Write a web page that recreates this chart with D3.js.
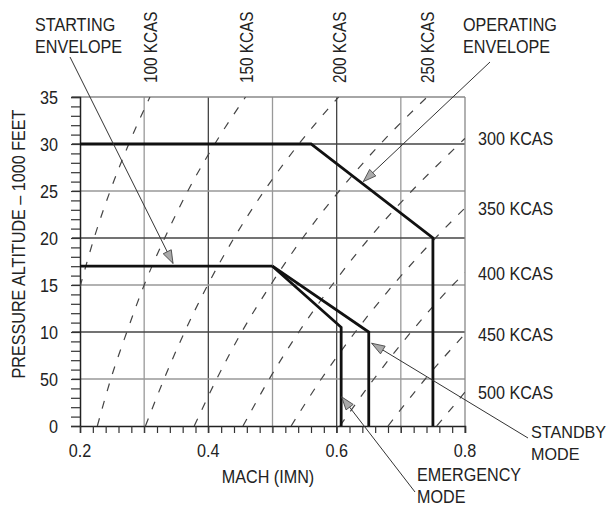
<!DOCTYPE html>
<html><head><meta charset="utf-8">
<script src="https://cdn.jsdelivr.net/npm/d3@7"></script>
<style>
body{margin:0;background:#fff}
svg text{font-family:"Liberation Sans",Arial,sans-serif;fill:#222;font-size:19px}
</style></head><body>
<svg id="chart" width="614" height="509"></svg>
<script>
// Axis ticks and labels
const machTicks = [0.2, 0.4, 0.6, 0.8];
const machMinorTicks = d3.range(10, 41).map(d => d / 50);   // every 0.02 Mach
const altTicks = [0, 5, 10, 15, 20, 25, 30, 35];
const altTickLabels = ["0", "50", "10", "15", "20", "25", "30", "35"];
const altMinorTicks = d3.range(0, 36);
const machGrid = [0.3, 0.4, 0.5, 0.6, 0.7];
const altGrid = [5, 10, 15, 20, 25, 30];

// Constant calibrated airspeed lines: [Mach, pressure altitude (1000 ft)]
const kcas100 = [[0.200, 14.8], [0.222, 20], [0.247, 25], [0.276, 30], [0.309, 35]];
const kcas150 = [[0.227, 0], [0.248, 5], [0.273, 10], [0.300, 15], [0.332, 20], [0.368, 25], [0.410, 30], [0.458, 35]];
const kcas200 = [[0.302, 0], [0.331, 5], [0.363, 10], [0.399, 15], [0.440, 20], [0.487, 25], [0.541, 30], [0.603, 35]];
const kcas250 = [[0.378, 0], [0.413, 5], [0.452, 10], [0.497, 15], [0.547, 20], [0.604, 25], [0.668, 30], [0.741, 35]];
const kcas300 = [[0.454, 0], [0.495, 5], [0.541, 10], [0.593, 15], [0.651, 20], [0.717, 25], [0.791, 30], [0.800, 30.6]];
const kcas350 = [[0.529, 0], [0.576, 5], [0.629, 10], [0.688, 15], [0.754, 20], [0.800, 23.2]];
const kcas400 = [[0.605, 0], [0.658, 5], [0.716, 10], [0.781, 15], [0.800, 16.3]];
const kcas450 = [[0.680, 0], [0.738, 5], [0.800, 9.8]];
const kcas500 = [[0.756, 0], [0.800, 3.6]];
const kcasLines = [kcas100, kcas150, kcas200, kcas250, kcas300, kcas350, kcas400, kcas450, kcas500];
const topKcasLabels = ["100 KCAS", "150 KCAS", "200 KCAS", "250 KCAS"];
const rightKcasLabels = ["300 KCAS", "350 KCAS", "400 KCAS", "450 KCAS", "500 KCAS"];

// Envelope boundaries
const operatingEnvelope = [[0.2, 30], [0.56, 30], [0.75, 20], [0.75, 0]];
const startingEnvelope = [[0.2, 17], [0.5, 17]];
const emergencyMode = [[0.5, 17], [0.607, 10.5], [0.607, 0]];
const standbyMode = [[0.5, 17], [0.65, 10], [0.65, 0]];

// Callouts: arrow tip in chart units, leader tail and text in page pixels
const callouts = [
  {lines: ["STARTING", "ENVELOPE"], tip: [0.345, 17.3], tail: [70, 57], tx: 35, ty: 31, size: 19},
  {lines: ["OPERATING", "ENVELOPE"], tip: [0.6415, 26.0], tail: [490, 62], tx: 463, ty: 31, size: 19},
  {lines: ["STANDBY", "MODE"], tip: [0.6546, 8.8], tail: [528, 438], tx: 531, ty: 438, size: 17},
  {lines: ["EMERGENCY", "MODE"], tip: [0.6078, 3.1], tail: [415, 492], tx: 417, ty: 481, size: 19}
];

const svg = d3.select("#chart");
const x = d3.scaleLinear().domain([0.2, 0.8]).range([80, 465]);
const y = d3.scaleLinear().domain([0, 35]).range([426, 97]);

svg.append("defs").append("clipPath").attr("id", "plot")
  .append("rect").attr("x", x(0.2)).attr("y", y(35)).attr("width", x(0.8) - x(0.2)).attr("height", y(0) - y(35));

// grid
const grid = svg.append("g");
grid.selectAll(".vg").data(machGrid).join("line")
  .attr("x1", d => x(d)).attr("x2", d => x(d)).attr("y1", y(35)).attr("y2", y(0) + 7)
  .attr("stroke", (d, i) => i % 2 === 1 ? "#444" : "#999").attr("stroke-width", 1.3);
grid.selectAll(".hg").data(altGrid).join("line")
  .attr("x1", 72).attr("x2", x(0.8)).attr("y1", d => y(d)).attr("y2", d => y(d))
  .attr("stroke", (d, i) => i % 2 === 1 ? "#444" : "#999").attr("stroke-width", 1.3);
// frame
grid.append("line").attr("x1", 72).attr("x2", x(0.8)).attr("y1", y(35)).attr("y2", y(35)).attr("stroke", "#888").attr("stroke-width", 1.3);
grid.append("line").attr("x1", x(0.8)).attr("x2", x(0.8)).attr("y1", y(35)).attr("y2", y(0) + 7).attr("stroke", "#888").attr("stroke-width", 1.3);

// axes with minor ticks
const yAxis = d3.axisLeft(y).tickValues(altMinorTicks).tickSize(9).tickFormat("");
svg.append("g").attr("transform", `translate(${x(0.2)},0)`).call(yAxis)
  .call(g => g.select(".domain").attr("stroke", "#222").attr("stroke-width", 1.5))
  .call(g => g.selectAll(".tick line").attr("stroke", "#333").attr("stroke-width", 1.2));
const xAxis = d3.axisBottom(x).tickValues(machMinorTicks).tickSize(7).tickFormat("");
svg.append("g").attr("transform", `translate(0,${y(0)})`).call(xAxis)
  .call(g => g.select(".domain").attr("stroke", "#222").attr("stroke-width", 1.5))
  .call(g => g.selectAll(".tick line").attr("stroke", "#333").attr("stroke-width", 1.2));

// tick labels
svg.append("g").selectAll("text").data(altTicks).join("text")
  .attr("x", 58).attr("y", d => y(d) + 7).attr("text-anchor", "end")
  .text((d, i) => altTickLabels[i]);
svg.append("g").selectAll("text").data(machTicks).join("text")
  .attr("x", d => x(d)).attr("y", 457).attr("text-anchor", "middle")
  .text(d => d3.format(".1f")(d));

// axis titles
svg.append("text").attr("transform", "translate(25,244) rotate(-90)").attr("text-anchor", "middle")
  .text("PRESSURE ALTITUDE – 1000 FEET");
svg.append("text").attr("x", 268).attr("y", 483).attr("text-anchor", "middle").text("MACH (IMN)");

// constant KCAS lines
const line = d3.line().x(d => x(d[0])).y(d => y(d[1])).curve(d3.curveMonotoneX);
svg.append("g").attr("clip-path", "url(#plot)").selectAll("path").data(kcasLines).join("path")
  .attr("d", line).attr("fill", "none").attr("stroke", "#444").attr("stroke-width", 1.2)
  .attr("stroke-dasharray", "8,10");

// KCAS labels (top ones set in a slightly smaller size so they clear the page edge)
svg.append("g").selectAll("text").data(topKcasLabels).join("text")
  .style("font-size", "18px")
  .attr("transform", (d, i) => { const p = kcasLines[i][kcasLines[i].length - 1]; return `translate(${x(p[0]) + 7},83) rotate(-90)`; })
  .text(d => d);
svg.append("g").selectAll("text").data(rightKcasLabels).join("text")
  .attr("x", 478).attr("y", (d, i) => { const c = kcasLines[i + 4]; return y(c[c.length - 1][1]) + 7; })
  .text(d => d);

// envelopes
const straight = d3.line().x(d => x(d[0])).y(d => y(d[1]));
svg.append("g").selectAll("path").data([operatingEnvelope, startingEnvelope, emergencyMode, standbyMode]).join("path")
  .attr("d", straight).attr("fill", "none").attr("stroke", "#111").attr("stroke-width", 2.8)
  .attr("stroke-linejoin", "miter");

// callouts
const cg = svg.append("g");
callouts.forEach(c => {
  const tx = x(c.tip[0]), ty = y(c.tip[1]);
  cg.append("line").attr("x1", c.tail[0]).attr("y1", c.tail[1]).attr("x2", tx).attr("y2", ty)
    .attr("stroke", "#333").attr("stroke-width", 1);
  const ang = Math.atan2(ty - c.tail[1], tx - c.tail[0]) * 180 / Math.PI;
  cg.append("path").attr("d", "M0,0L-13,-4.5L-13,4.5Z")
    .attr("transform", `translate(${tx},${ty}) rotate(${ang})`)
    .attr("fill", "#aaa").attr("stroke", "#444").attr("stroke-width", 0.8);
  c.lines.forEach((t, i) => cg.append("text").attr("x", c.tx).attr("y", c.ty + i * 22)
    .style("font-size", c.size + "px").attr("data-squeeze", c.size < 19 ? 0.95 : 0.85).text(t));
});

// condensed lettering: squeeze every label to a narrow width
svg.selectAll("text").each(function () {
  const w = this.getComputedTextLength();
  const k = +(this.getAttribute("data-squeeze") || 0.85);
  d3.select(this).attr("textLength", (w * k).toFixed(1)).attr("lengthAdjust", "spacingAndGlyphs");
});
</script>
</body></html>
